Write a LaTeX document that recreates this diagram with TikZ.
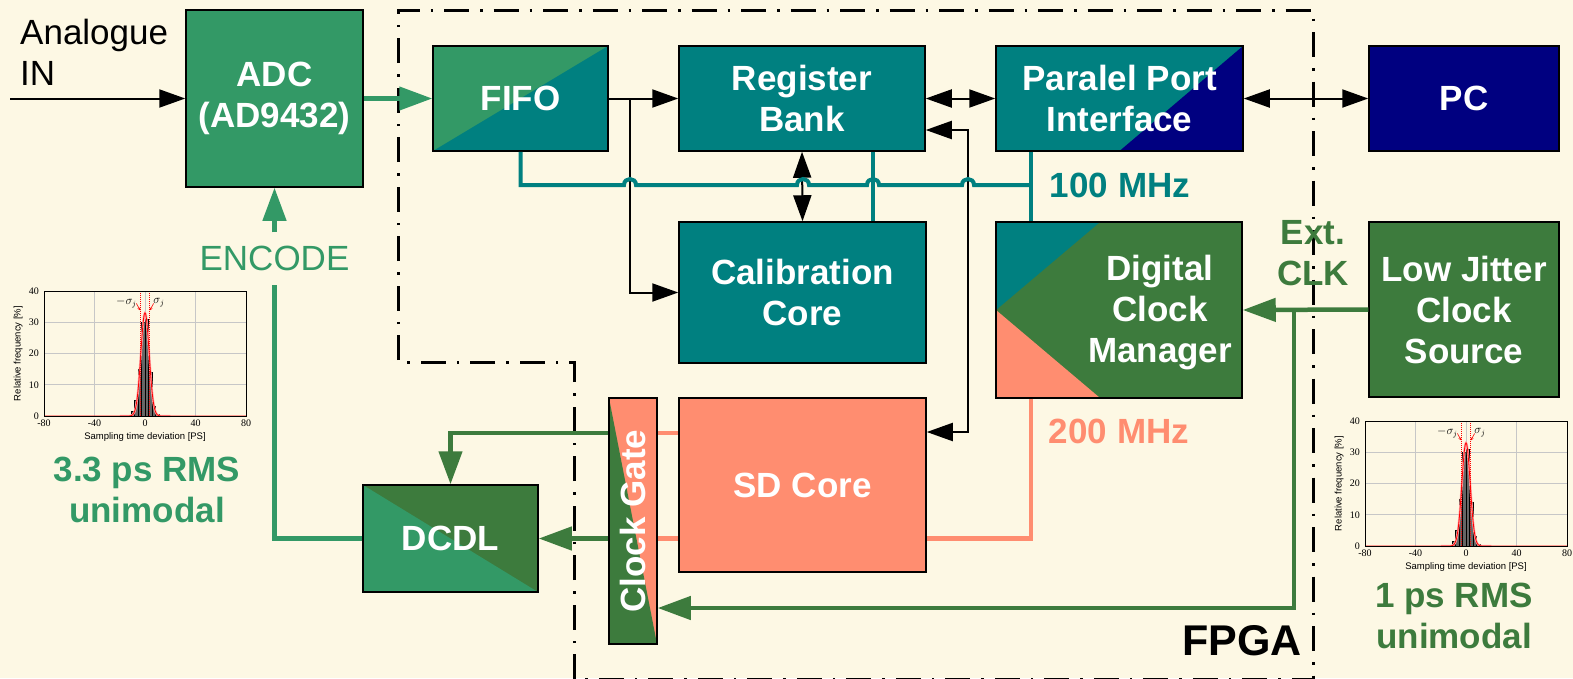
\documentclass[tikz,border=0pt]{standalone}
\usepackage{fontspec}
\setmainfont{Liberation Sans}
\newfontfamily\tickserif{Liberation Serif}
\usetikzlibrary{arrows.meta,calc,positioning}
\definecolor{paper}{RGB}{253,248,228}
\definecolor{adcgreen}{RGB}{51,153,102}
\definecolor{fpgateal}{RGB}{0,128,128}
\definecolor{pcnavy}{RGB}{0,0,128}
\definecolor{clkgreen}{RGB}{61,123,61}
\definecolor{sdsalmon}{RGB}{255,141,112}

% jitter histogram, drawn in data units (x: ps, y: %)
\newcommand{\jitterhist}{%
  \draw[black!22,line width=0.8pt] (-40,0) -- (-40,40) (0,0) -- (0,40) (40,0) -- (40,40)
      (-80,10) -- (80,10) (-80,20) -- (80,20) (-80,30) -- (80,30);
  \foreach \a/\h in {-11/1.5,-8.25/5,-5.5/15,-2.75/30,0/31,2.75/14,5.5/3,8.25/0.6}
    \draw[fill=black!60,line width=0.6pt] (\a,0) rectangle ++(2.75,\h);
  \draw[red!35,line width=2.2pt] plot[domain=-20:20,samples=81,smooth] (\x,{33*exp(-(\x*\x)/21.8)});
  \draw[red,line width=0.8pt] (-80,0) -- (-20,0)
      -- plot[domain=-20:20,samples=81,smooth] (\x,{33*exp(-(\x*\x)/21.8)}) -- (80,0);
  \draw[red,densely dotted,line width=1pt] (-3.3,0) -- (-3.3,40) (3.3,0) -- (3.3,40);
  \draw[line width=0.8pt] (-80,0) rectangle (80,40);
  \foreach \t in {-80,-40,0,40,80} \node[ticklbl,anchor=north] at (\t,-1.2) {\t};
  \foreach \t in {0,10,20,30,40} \node[ticklbl,anchor=east] at (-84,\t) {\t};
  \node[axislbl] at (0,-6.8) {Sampling time deviation [PS]};
  \node[axislbl,rotate=90] at (-100.5,20) {Relative frequency [\%]};
  \node[siglbl,anchor=east] at (-6.5,36.3) {$-\sigma_j$};
  \node[siglbl,anchor=west] at (6.5,36.3) {$\sigma_j$};
  \draw[red,line width=0.6pt,-{Stealth[length=3pt,width=3pt]}] (-6.8,36) -- (-3.8,33.8);
  \draw[red,line width=0.6pt,-{Stealth[length=3pt,width=3pt]}] (6.8,36) -- (3.8,33.8);
}

\begin{document}
\begin{tikzpicture}[x=1pt,y=-1pt,
    box/.style={draw=black,line width=1.5pt,inner sep=0pt,align=center,text=white,
                font=\fontsize{35}{41}\selectfont\bfseries},
    lbl/.style={inner sep=0pt,align=center,font=\fontsize{35}{41}\selectfont\bfseries},
    plainlbl/.style={inner sep=0pt,align=left,font=\fontsize{35}{41}\selectfont},
    fifosplit/.style={path picture={\fill[fpgateal] (path picture bounding box.south west)
        -- (path picture bounding box.north east) -- (path picture bounding box.south east) -- cycle;}},
    ppisplit/.style={path picture={\fill[pcnavy] (path picture bounding box.south)
        -- (path picture bounding box.north east) -- (path picture bounding box.south east) -- cycle;}},
    dcmsplit/.style={path picture={
        \fill[fpgateal] (path picture bounding box.north west)
        -- ($(path picture bounding box.north west)!0.423!(path picture bounding box.north east)$)
        -- (path picture bounding box.west) -- cycle;
        \fill[sdsalmon] (path picture bounding box.west)
        -- ($(path picture bounding box.south west)!0.423!(path picture bounding box.south east)$)
        -- (path picture bounding box.south west) -- cycle;}},
    lowersplit/.style={path picture={\fill[#1] (path picture bounding box.north west)
        -- (path picture bounding box.south east) -- (path picture bounding box.south west) -- cycle;}},
    blk/.style={line width=2pt,>={Triangle[length=26pt,width=18pt]}},
    wire/.style={line width=4.5pt,draw=#1,>={Triangle[length=33pt,width=23pt]}},
    bus/.style={line width=4pt,draw=fpgateal},
    fpgaline/.style={line width=3pt,dash pattern=on 25pt off 11pt on 2.5pt off 11pt},
    ticklbl/.style={inner sep=0pt,font=\tickserif\fontsize{10}{12}\selectfont},
    axislbl/.style={inner sep=0pt,font=\fontsize{9.5}{11}\selectfont},
    siglbl/.style={inner sep=0pt,font=\fontsize{12}{14}\selectfont}]

  \fill[paper] (0,0) rectangle (1573,678);
  \useasboundingbox (0,0) rectangle (1573,678);

  % --- FPGA boundary -------------------------------------------------------
  \draw[fpgaline] (574,679) -- (574,362) -- (398,362) -- (398,10) -- (1313,10) -- (1313,679) -- cycle;
  \node[lbl,font=\fontsize{43}{50}\selectfont\bfseries] (fpga) at (1242,641) {FPGA};

  % --- blocks --------------------------------------------------------------
  \node[box,fill=adcgreen,minimum width=177pt,minimum height=177pt] (adc) at (274.5,98.5) {ADC\\(AD9432)};
  \node[box,fill=adcgreen,fifosplit,minimum width=175pt,minimum height=105pt] (fifo) at (520.5,98.5) {FIFO};
  \node[box,fill=fpgateal,minimum width=246pt,minimum height=105pt] (rb) at (802,98.5) {Register\\Bank};
  \node[box,fill=fpgateal,ppisplit,minimum width=247pt,minimum height=105pt] (ppi) at (1119.5,98.5) {Paralel Port\\Interface};
  \node[box,fill=pcnavy,minimum width=190pt,minimum height=105pt] (pc) at (1464,98.5) {PC};
  \node[box,fill=fpgateal,minimum width=247pt,minimum height=141pt] (cal) at (802.5,292.5) {Calibration\\Core};
  \node[box,fill=clkgreen,dcmsplit,minimum width=246pt,minimum height=176pt] (dcm) at (1119,310) {};
  \node[lbl,text=white] (dcmtext) at (1160,312.5) {Digital\\Clock\\Manager};
  \node[box,fill=clkgreen,minimum width=190pt,minimum height=175pt] (ljc) at (1464,309.5) {Low Jitter\\Clock\\Source};
  \node[box,fill=sdsalmon,minimum width=247pt,minimum height=174pt] (sd) at (802.5,485) {SD Core};
  \node[box,fill=sdsalmon,lowersplit=clkgreen,minimum width=48pt,minimum height=246pt] (cg) at (633,521) {};
  \node[lbl,text=white,rotate=90] (cgtext) at (cg.center) {Clock Gate};
  \node[box,fill=clkgreen,lowersplit=adcgreen,minimum width=175pt,minimum height=107pt] (dcdl) at (450.5,538.5) {DCDL};

  % --- labels --------------------------------------------------------------
  \node[plainlbl,anchor=north west] (ainlbl) at (20,19) {Analogue\\IN};
  \node[plainlbl,text=adcgreen,inner ysep=13.5pt] (enc) at (274.5,258.5) {ENCODE};
  \node[lbl,text=fpgateal] (f100) at (1120,185) {100 MHz};
  \node[lbl,text=sdsalmon] (f200) at (1119,431) {200 MHz};
  \node[lbl,text=clkgreen] (extclk) at (1313,253.5) {Ext.\\CLK};
  \node[lbl,text=adcgreen] (rmsadc) at (147,490) {3.3 ps RMS\\unimodal};
  \node[lbl,text=clkgreen] (rmsclk) at (1454,616) {1 ps RMS\\unimodal};

  % --- data path (black) ---------------------------------------------------
  \coordinate (ain) at (10,98.5);
  \coordinate (jfifo) at (630,98.5);
  \draw[blk,->] (ain) -- (adc.west);
  \draw[blk,->] (fifo.east) -- (rb.west);
  \draw[blk,->] (jfifo) |- (cal.west);
  \draw[blk,<->] (rb.east) -- (ppi.west);
  \draw[blk,<->] (ppi.east) -- (pc.west);
  \draw[blk,<->] (rb.south) -- (cal.north);
  \draw[blk,<->] (rb.east |- 0,130) -| (968,432) -- (sd.east |- 0,432);
  \draw[wire=adcgreen,->] (adc.east) -- (fifo.west);

  % --- 100 MHz clock tree (teal) -------------------------------------------
  \draw[bus] (fifo.south) -- (fifo.south |- 0,185)
      \foreach \h in {630,803,873,968} { -- (\h-6,185) .. controls (\h-6,177) and (\h+6,177) .. (\h+6,185) }
      -- (1031,185);
  \draw[bus] (rb.south -| 873,0) -- (cal.north -| 873,0);
  \draw[bus] (ppi.south -| 1031,0) -- (dcm.north -| 1031,0);

  % --- 200 MHz clock (salmon) ----------------------------------------------
  \draw[wire=sdsalmon] (dcm.south -| 1031,0) |- (sd.east |- dcdl.east);
  \draw[wire=sdsalmon] (cg.east |- 0,433) -- (sd.west |- 0,433);
  \draw[wire=sdsalmon] (cg.east |- dcdl.east) -- (sd.west |- dcdl.east);

  % --- external clock and delay line (green) -------------------------------
  \coordinate (jclk) at (ljc.west -| 1294,0);
  \draw[wire=clkgreen,->] (ljc.west) -- (dcm.east);
  \draw[wire=clkgreen,->] (jclk) |- (cg.east |- 0,608);
  \draw[wire=clkgreen,->] (cg.west |- 0,433) -| (dcdl.north);
  \draw[wire=clkgreen,->] (cg.west |- dcdl.east) -- (dcdl.east);
  \draw[wire=adcgreen] (dcdl.west) -| (enc.south);
  \draw[wire=adcgreen,->] (enc.north) -- (adc.south);

  % --- jitter histograms ---------------------------------------------------
  \begin{scope}[shift={(145,416)},x=1.2625pt,y=3.125pt]
    \jitterhist
  \end{scope}
  \begin{scope}[shift={(1466,546)},x=1.2625pt,y=3.125pt]
    \jitterhist
  \end{scope}
\end{tikzpicture}
\end{document}
